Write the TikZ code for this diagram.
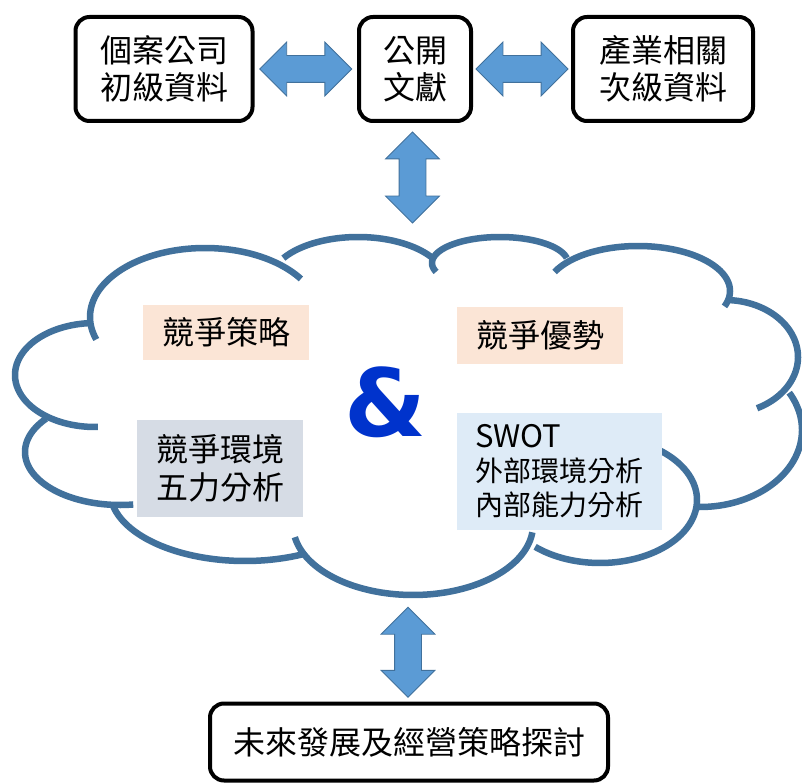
\documentclass[tikz,border=0pt]{standalone}
\usepackage{fontspec}
\setmainfont{Noto Sans CJK TC}
\newfontfamily\ampfont{DejaVu Sans}
\usetikzlibrary{shapes.arrows,calc}
\definecolor{arrowfill}{HTML}{5B9BD5}
\definecolor{arrowline}{HTML}{41719C}
\definecolor{cloudline}{HTML}{41719C}
\definecolor{peach}{HTML}{FBE5D6}
\definecolor{slate}{HTML}{D6DCE5}
\definecolor{paleblue}{HTML}{DEEBF7}
\definecolor{ampblue}{HTML}{0033CC}
% one lobe of the cloud: centre x, x radius, centre y, y radius, start, end (parametric angles, y down)
\newcommand\cloudlobe[6]{%
  \draw[lobe] plot[domain=#5:#6, samples=72, variable=\t] ({#1+#2*cos(\t)},{#3+#4*sin(\t)});}
\begin{document}
\begin{tikzpicture}[x=1pt,y=-1pt,
  blackbox/.style={draw=black, line width=4pt, rounded corners=14pt, fill=white,
    align=center, inner sep=0pt, font=\fontsize{32}{37}\selectfont},
  tagbox/.style={inner sep=0pt, align=center, font=\fontsize{32}{38}\selectfont},
  dblarrow/.style={double arrow, draw=arrowline, fill=arrowfill, line width=0.8pt,
    inner sep=0pt, inner ysep=13pt, minimum width=53pt,
    double arrow head extend=13.5pt, double arrow tip angle=90},
  lobe/.style={draw=cloudline, line width=6.5pt}
]
\path[use as bounding box, fill=white] (0,0) rectangle (802,783);

% top boxes
\node[blackbox, minimum width=177pt, minimum height=104pt] (src1) at (164,69) {個案公司\\初級資料};
\node[blackbox, minimum width=112pt, minimum height=104pt] (lit) at (415,69) {公開\\文獻};
\node[blackbox, minimum width=180pt, minimum height=104pt] (src2) at (663,69) {產業相關\\次級資料};

% cloud
\coordinate (cloudtop) at (412.5,232);
\coordinate (cloudbot) at (408,603);
\cloudlobe{205}{115}{317}{69}{161}{326.5}   % upper left
\cloudlobe{358}{88}{282}{45}{212}{328}      % top 2
\cloudlobe{500}{68}{263}{26}{160}{349}      % top 3
\cloudlobe{638}{92}{291}{45}{205}{380}      % top 4
\cloudlobe{725}{73}{357}{57}{274}{424}      % right upper
\cloudlobe{700}{102}{430}{77}{-29}{92}      % right lower
\cloudlobe{600}{97}{500}{63}{-62}{132}      % bottom right
\cloudlobe{413}{120}{525}{70}{6}{170}       % bottom centre
\cloudlobe{245}{135}{491}{70}{65}{167}      % bottom left
\cloudlobe{120}{95}{452}{53}{82}{219}       % left lower
\cloudlobe{95}{80}{375}{52}{88}{266}        % left upper

% inner boxes
\node[tagbox, fill=peach, minimum width=166pt, minimum height=55pt] (strat) at (226,332.5) {競爭策略};
\node[tagbox, fill=peach, minimum width=166pt, minimum height=57pt] (adv) at (540,335.5) {競爭優勢};
\node[tagbox, fill=slate, minimum width=166pt, minimum height=97pt] (env) at (220,468.5) {競爭環境\\五力分析};
\node[tagbox, fill=paleblue, minimum width=205pt, minimum height=117pt, text width=169pt,
  align=left, font=\fontsize{28}{34}\selectfont] (swot) at (559.5,471.5)
  {{\fontsize{31}{34}\selectfont SWOT}\\外部環境分析\\內部能力分析};
\node[text=ampblue, font=\ampfont\bfseries\fontsize{94}{94}\selectfont, inner sep=0pt] (amp) at (385,402.5) {\&};

% bottom box
\node[blackbox, minimum width=398pt, minimum height=77pt] (future) at (409,742) {未來發展及經營策略探討};

% arrows
\node[dblarrow, minimum height=92pt] (a1) at ($(src1.east)!0.5!(lit.west)$) {};
\node[dblarrow, minimum height=92pt] (a2) at ($(lit.east)!0.5!(src2.west)$) {};
\node[dblarrow, minimum height=91pt, rotate=90] (a3) at ($(lit.south -| cloudtop)!0.5!(cloudtop)$) {};
\node[dblarrow, minimum height=90pt, rotate=90] (a4) at ($(cloudbot)!0.5!(future.north -| cloudbot)$) {};
\end{tikzpicture}
\end{document}
